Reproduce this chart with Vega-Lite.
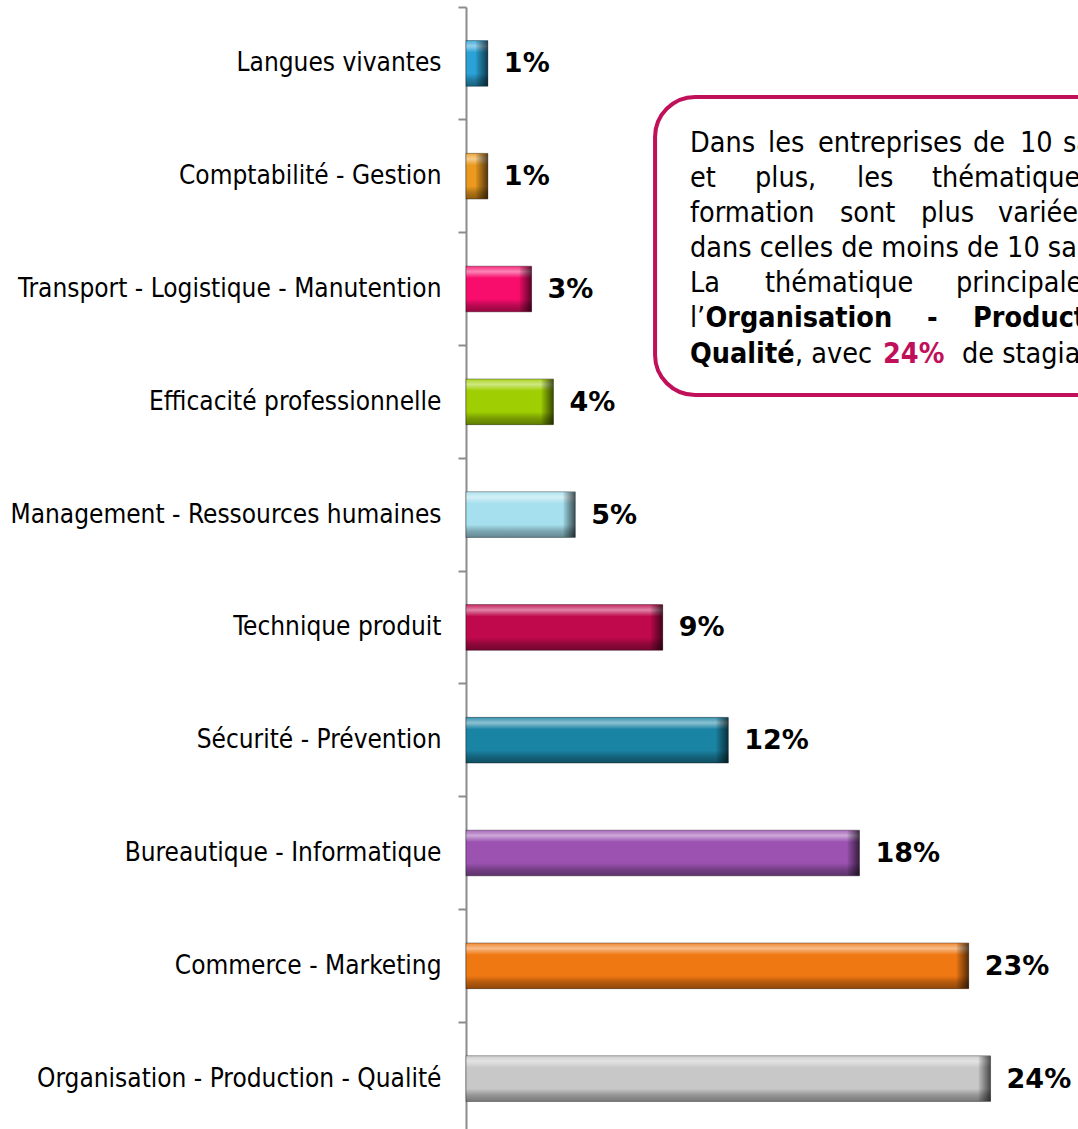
{
  "$schema": "https://vega.github.io/schema/vega-lite/v6.json",
  "autosize": {"type": "none"},
  "width": 612,
  "height": 1122,
  "padding": {"left": 466, "top": 7, "right": 0, "bottom": 0},
  "background": "white",
  "config": {"view": {"stroke": null}},
  "datasets": {
    "themes": [
      {"cat": "Langues vivantes", "v": 0.01},
      {"cat": "Comptabilité - Gestion", "v": 0.01},
      {"cat": "Transport - Logistique - Manutention", "v": 0.03},
      {"cat": "Efficacité professionnelle", "v": 0.04},
      {"cat": "Management - Ressources humaines", "v": 0.05},
      {"cat": "Technique produit", "v": 0.09},
      {"cat": "Sécurité - Prévention", "v": 0.12},
      {"cat": "Bureautique - Informatique", "v": 0.18},
      {"cat": "Commerce - Marketing", "v": 0.23},
      {"cat": "Organisation - Production - Qualité", "v": 0.24}
    ],
    "box": [{"x1": 0.0865, "x2": 0.33, "y1": 0.802, "y2": 3.458}],
    "noteRegular": [
      {"x": 0.10248, "y": 1.290, "t": "Dans"},
      {"x": 0.13817, "y": 1.290, "t": "les"},
      {"x": 0.16105, "y": 1.290, "t": "entreprises"},
      {"x": 0.23196, "y": 1.290, "t": "de"},
      {"x": 0.25346, "y": 1.290, "t": "10"},
      {"x": 0.27314, "y": 1.290, "t": "salariés"},
      {"x": 0.10248, "y": 1.602, "t": "et"},
      {"x": 0.13222, "y": 1.602, "t": "plus,"},
      {"x": 0.17889, "y": 1.602, "t": "les"},
      {"x": 0.21320, "y": 1.602, "t": "thématiques de"},
      {"x": 0.10248, "y": 1.916, "t": "formation"},
      {"x": 0.17111, "y": 1.916, "t": "sont"},
      {"x": 0.20817, "y": 1.916, "t": "plus"},
      {"x": 0.24340, "y": 1.916, "t": "variées que"},
      {"x": 0.10248, "y": 2.226, "t": "dans celles de moins de 10 salariés."},
      {"x": 0.10248, "y": 2.540, "t": "La"},
      {"x": 0.13680, "y": 2.540, "t": "thématique"},
      {"x": 0.22418, "y": 2.540, "t": "principale est"},
      {"x": 0.10248, "y": 2.852, "t": "l’"},
      {"x": 0.15052, "y": 3.173, "t": ", avec"},
      {"x": 0.22690, "y": 3.173, "t": "de stagiaires."}
    ],
    "noteBold": [
      {"x": 0.10960, "y": 2.852, "t": "Organisation"},
      {"x": 0.21092, "y": 2.852, "t": "-"},
      {"x": 0.23196, "y": 2.852, "t": "Production -"},
      {"x": 0.10248, "y": 3.173, "t": "Qualité"}
    ],
    "noteRed": [
      {"x": 0.19078, "y": 3.173, "t": "24%"}
    ]
  },
  "resolve": {"scale": {"y": "independent"}},
  "layer": [
    {
      "data": {"name": "themes"},
      "encoding": {
        "y": {
          "field": "cat", "type": "nominal", "sort": null,
          "scale": {"paddingInner": 0, "paddingOuter": 0, "range": [0, 1128]},
          "axis": {
            "title": null, "labelFont": "DejaVu Sans Condensed", "labelFontSize": 26,
            "labelColor": "#000000", "labelPadding": 17, "labelLimit": 0,
            "tickSize": 8, "tickWidth": 2, "tickColor": "#8c8c8c",
            "domainColor": "#8c8c8c", "domainWidth": 2, "bandPosition": 0, "grid": false
          }
        },
        "x": {
          "field": "v", "type": "quantitative",
          "scale": {"domain": [0, 0.28], "nice": false, "zero": true},
          "axis": null
        }
      },
      "layer": [
        {
          "mark": {"type": "bar", "height": {"band": 0.405}},
          "encoding": {
            "color": {
              "field": "cat", "type": "nominal", "legend": null,
              "scale": {
                "domain": ["Langues vivantes", "Comptabilité - Gestion", "Transport - Logistique - Manutention", "Efficacité professionnelle", "Management - Ressources humaines", "Technique produit", "Sécurité - Prévention", "Bureautique - Informatique", "Commerce - Marketing", "Organisation - Production - Qualité"],
                "range": ["#2aa2d6", "#eb9a1e", "#f80c6c", "#9fcf02", "#a6e0ee", "#c0094d", "#1a84a4", "#9b52b1", "#f07812", "#c8c8c8"]
              }
            }
          }
        },
        {
          "mark": {
            "type": "bar", "height": {"band": 0.405},
            "stroke": "rgba(0,0,0,0.35)", "strokeWidth": 1,
            "fill": {
              "gradient": "linear", "x1": 0, "y1": 0, "x2": 0, "y2": 1,
              "stops": [
                {"offset": 0, "color": "rgba(255,255,255,0.12)"},
                {"offset": 0.12, "color": "rgba(255,255,255,0.5)"},
                {"offset": 0.26, "color": "rgba(255,255,255,0.0)"},
                {"offset": 0.72, "color": "rgba(0,0,0,0.0)"},
                {"offset": 0.86, "color": "rgba(0,0,0,0.25)"},
                {"offset": 1, "color": "rgba(0,0,0,0.4)"}
              ]
            }
          },
          "encoding": {}
        },
        {
          "mark": {
            "type": "tick", "orient": "vertical", "thickness": 12, "size": 45, "xOffset": -6,
            "opacity": 1,
            "fill": {
              "gradient": "linear", "x1": 0, "y1": 0, "x2": 1, "y2": 0,
              "stops": [
                {"offset": 0, "color": "rgba(0,0,0,0.05)"},
                {"offset": 1, "color": "rgba(0,0,0,0.65)"}
              ]
            }
          },
          "encoding": {}
        },
        {
          "mark": {
            "type": "text", "align": "left", "baseline": "middle", "dx": 16, "dy": 1,
            "font": "DejaVu Sans", "fontWeight": "bold", "fontSize": 27, "color": "#000000"
          },
          "encoding": {
            "text": {"field": "v", "type": "quantitative", "format": ".0%"}
          }
        }
      ]
    },
    {
      "layer": [
        {
          "data": {"name": "box"},
          "mark": {
            "type": "rect", "cornerRadius": 40, "fill": "white",
            "stroke": "#c0105a", "strokeWidth": 4, "clip": true
          },
          "encoding": {
            "x": {"field": "x1", "type": "quantitative"},
            "x2": {"field": "x2"},
            "y": {"field": "y1", "type": "quantitative", "scale": {"domain": [0, 10], "reverse": true, "nice": false, "zero": false}, "axis": null},
            "y2": {"field": "y2"}
          }
        },
        {
          "data": {"name": "noteRegular"},
          "mark": {
            "type": "text", "align": "left", "baseline": "alphabetic", "clip": true,
            "font": "DejaVu Sans Condensed", "fontSize": 28.5, "color": "#000000"
          },
          "encoding": {
            "x": {"field": "x", "type": "quantitative"},
            "y": {"field": "y", "type": "quantitative"},
            "text": {"field": "t"}
          }
        },
        {
          "data": {"name": "noteBold"},
          "mark": {
            "type": "text", "align": "left", "baseline": "alphabetic", "clip": true,
            "font": "DejaVu Sans Condensed", "fontWeight": "bold", "fontSize": 28.5, "color": "#000000"
          },
          "encoding": {
            "x": {"field": "x", "type": "quantitative"},
            "y": {"field": "y", "type": "quantitative"},
            "text": {"field": "t"}
          }
        },
        {
          "data": {"name": "noteRed"},
          "mark": {
            "type": "text", "align": "left", "baseline": "alphabetic", "clip": true,
            "font": "DejaVu Sans Condensed", "fontWeight": "bold", "fontSize": 28.5, "color": "#c0105a"
          },
          "encoding": {
            "x": {"field": "x", "type": "quantitative"},
            "y": {"field": "y", "type": "quantitative"},
            "text": {"field": "t"}
          }
        }
      ]
    }
  ]
}
